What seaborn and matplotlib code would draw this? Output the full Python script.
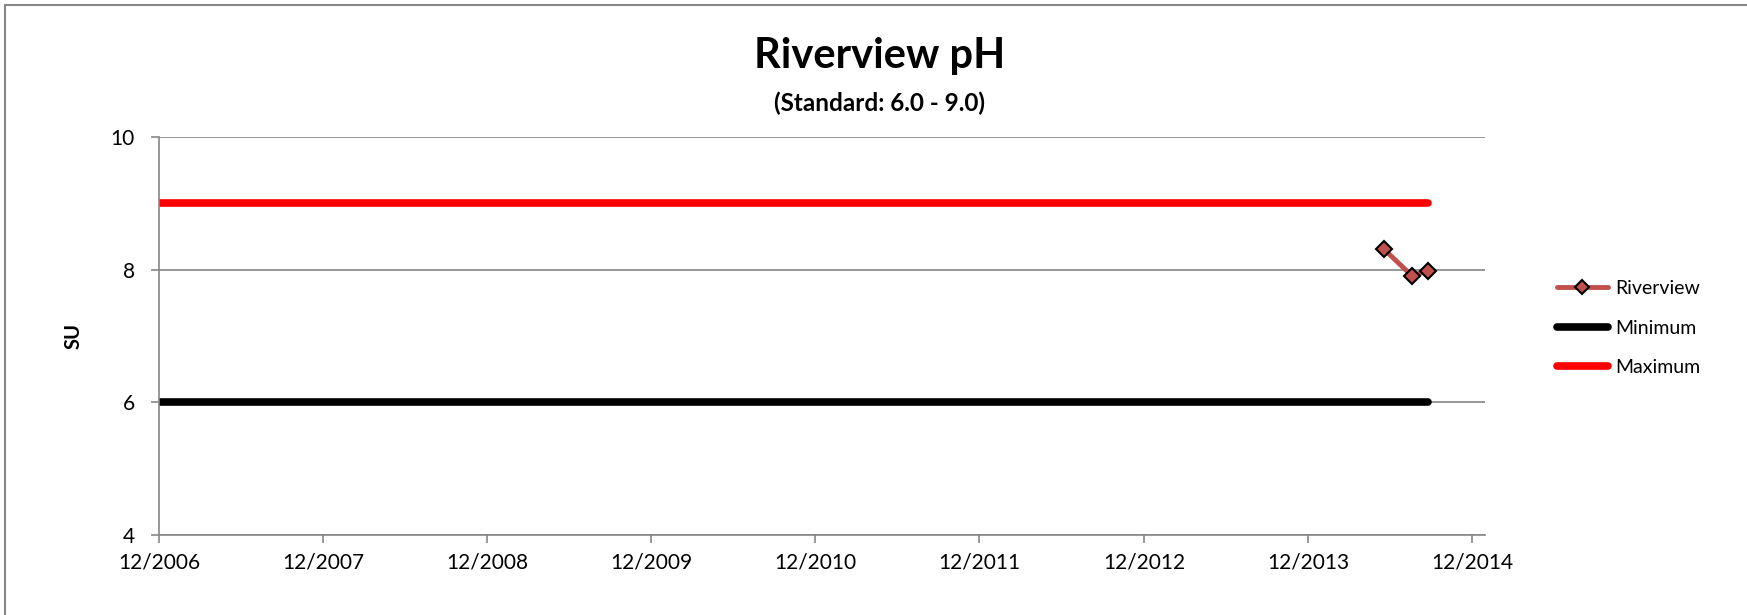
import pandas as pd
import numpy as np
import matplotlib
matplotlib.use("Agg")
import matplotlib.pyplot as plt
import matplotlib.dates as mdates
from matplotlib.lines import Line2D
import seaborn as sns

# data
sample_dates = ["2014-05-19", "2014-07-20", "2014-08-25"]
riverview_ph = [8.31, 7.91, 7.98]
standard_dates = ["2006-12-01", "2014-08-25"]
minimum_ph = [6.0, 6.0]
maximum_ph = [9.0, 9.0]
tick_years = list(range(2006, 2015))

sns.set_style("white")
plt.rcParams['font.family'] = ['Lato', 'DejaVu Sans']
plt.rcParams['text.color'] = 'black'
plt.rcParams['axes.labelcolor'] = 'black'

riverview = pd.DataFrame({"date": pd.to_datetime(sample_dates), "pH": riverview_ph})
limits = pd.DataFrame({"date": pd.to_datetime(standard_dates),
                       "Minimum": minimum_ph, "Maximum": maximum_ph})

fig = plt.figure(figsize=(17.47, 6.15), dpi=100)
ax = fig.add_axes([159/1747, 1 - 535/615, (1485 - 159)/1747, (535 - 137)/615])

grey = "#868686"
ax.yaxis.grid(True, color=grey, lw=1.2)
ax.set_axisbelow(True)

sns.lineplot(data=limits, x="date", y="Maximum", ax=ax, color="#FF0000", lw=5.5,
             solid_capstyle="round")
sns.lineplot(data=limits, x="date", y="Minimum", ax=ax, color="black", lw=5.5,
             solid_capstyle="round")
sns.lineplot(data=riverview, x="date", y="pH", ax=ax, color="#C0504D", lw=3.5,
             marker="D", markersize=8, markerfacecolor="#C0504D",
             markeredgecolor="black", markeredgewidth=1.5)

ax.set_ylim(4, 10)
ax.set_yticks([4, 6, 8, 10])
ax.set_xlim(pd.Timestamp("2006-12-01"), pd.Timestamp("2014-12-30"))
ax.set_xticks([pd.Timestamp(f"{y}-12-01") for y in tick_years])
ax.xaxis.set_major_formatter(mdates.DateFormatter("%m/%Y"))

for s in ["top", "right"]:
    ax.spines[s].set_visible(False)
for s in ["left", "bottom"]:
    ax.spines[s].set_color(grey)
    ax.spines[s].set_linewidth(1.2)
ax.tick_params(axis="both", direction="out", length=5.5, width=1.2, color=grey,
               labelsize=15, labelcolor="black", bottom=True, left=True)
ax.tick_params(axis="x", pad=7)
ax.tick_params(axis="y", pad=12)

ax.set_xlabel("")
ax.set_ylabel("SU", fontsize=14.5, fontweight="bold")
ax.yaxis.set_label_coords((84 - 159)/1326, 0.5)

fig.text(880/1747, 1 - 56/615, "Riverview pH", ha="center", va="center",
         fontsize=30, fontweight="bold")
fig.text(880/1747, 1 - 103/615, "(Standard: 6.0 - 9.0)", ha="center", va="center",
         fontsize=17.5, fontweight="bold")

handles = [
    Line2D([], [], color="#C0504D", lw=3.5, marker="D", markersize=7,
           markerfacecolor="#C0504D", markeredgecolor="black", markeredgewidth=1.5),
    Line2D([], [], color="black", lw=5.5, solid_capstyle="round"),
    Line2D([], [], color="#FF0000", lw=5.5, solid_capstyle="round"),
]
fig.legend(handles, ["Riverview", "Minimum", "Maximum"], loc="center left",
           bbox_to_anchor=(1557/1747, 1 - 328/615), frameon=False, fontsize=14,
           handlelength=2.6, handletextpad=0.4, labelspacing=1.15,
           borderpad=0, borderaxespad=0)

# chart area border (top and left edges visible)
fig.add_artist(Line2D([5/1747, 5/1747], [0, 1 - 5/615], color=grey, lw=1.5,
                      transform=fig.transFigure))
fig.add_artist(Line2D([5/1747, 1], [1 - 5/615, 1 - 5/615], color=grey, lw=1.5,
                      transform=fig.transFigure))

fig.savefig("out.png", dpi=100)
